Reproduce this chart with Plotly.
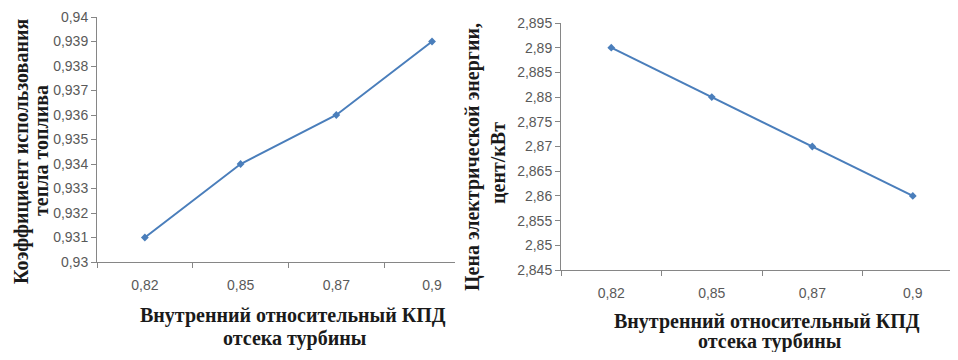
import plotly.graph_objects as go

# Page body has an 8px default margin on every side; size the figure so the page does not overflow.
OFF = 8
W, H = 958 - 2 * OFF, 360 - 2 * OFF

categories = ["0,82", "0,85", "0,87", "0,9"]
coef_values = [0.931, 0.934, 0.936, 0.939]
price_values = [2.89, 2.88, 2.87, 2.86]

left_yticks = [0.93, 0.931, 0.932, 0.933, 0.934, 0.935, 0.936, 0.937, 0.938, 0.939, 0.94]
left_yticklabels = ["0,93", "0,931", "0,932", "0,933", "0,934", "0,935", "0,936", "0,937", "0,938", "0,939", "0,94"]
right_yticks = [2.845, 2.85, 2.855, 2.86, 2.865, 2.87, 2.875, 2.88, 2.885, 2.89, 2.895]
right_yticklabels = ["2,845", "2,85", "2,855", "2,86", "2,865", "2,87", "2,875", "2,88", "2,885", "2,89", "2,895"]

left_ytitle_lines = ["Коэффициент использования", "тепла топлива"]
right_ytitle_lines = ["Цена электрической энергии,", "цент/кВт"]
xtitle_lines = ["Внутренний относительный КПД", "отсека турбины"]

LINE = "#4a7ebb"
AXIS = "#868686"
TICKFONT = dict(family="Liberation Sans, Arial", size=14, color="#595959")
TITLEFONT = dict(family="Liberation Serif, Times New Roman", size=20, color="#1a1a1a")

fig = go.Figure()
fig.add_trace(go.Scatter(x=categories, y=coef_values, mode="lines+markers",
                         line=dict(color=LINE, width=2),
                         marker=dict(symbol="diamond", size=6, color=LINE),
                         xaxis="x", yaxis="y", showlegend=False))
fig.add_trace(go.Scatter(x=categories, y=price_values, mode="lines+markers",
                         line=dict(color=LINE, width=2),
                         marker=dict(symbol="diamond", size=6, color=LINE),
                         xaxis="x2", yaxis="y2", showlegend=False))

def px(x):
    return min(max((x - OFF) / W, 0.0), 1.0)

def py(y):
    return min(max(1 - (y - OFF) / H, 0.0), 1.0)

xcommon = dict(type="category", tickson="boundaries", ticks="outside", ticklen=5,
               tickcolor=AXIS, showline=True, linecolor=AXIS, linewidth=1,
               showgrid=False, zeroline=False, tickfont=TICKFONT, ticklabelstandoff=10,
               automargin=False)
ycommon = dict(ticks="outside", ticklen=5, tickcolor=AXIS, showline=True, linecolor=AXIS,
               linewidth=1, showgrid=False, zeroline=False, tickfont=TICKFONT,
               automargin=False, ticklabeloverflow="allow")

def label(text, x, y, angle=0):
    return dict(text="<b>" + text + "</b>", textangle=angle, xref="paper", yref="paper",
                x=px(x), y=py(y), xanchor="center", yanchor="middle", showarrow=False,
                font=TITLEFONT)

annotations = [
    label(left_ytitle_lines[0], 21, 152, -90),
    label(left_ytitle_lines[1], 41, 151, -90),
    label(right_ytitle_lines[0], 472, 157, -90),
    label(right_ytitle_lines[1], 498, 163, -90),
    label(xtitle_lines[0], 293, 315),
    label(xtitle_lines[1], 295, 338),
    label(xtitle_lines[0], 767, 321),
    label(xtitle_lines[1], 770, 341),
]

fig.update_layout(
    width=W, height=H,
    margin=dict(l=0, r=0, t=0, b=0, autoexpand=False),
    paper_bgcolor="white", plot_bgcolor="white",
    xaxis=dict(domain=[px(97), px(455)], range=[-0.5, 3.24], anchor="y", **xcommon),
    yaxis=dict(domain=[py(262), py(17)], range=[0.93, 0.94], anchor="x",
               tickvals=left_yticks, ticktext=left_yticklabels, **ycommon),
    xaxis2=dict(domain=[px(561), 1.0], range=[-0.5, 3.37], anchor="y2", **xcommon),
    yaxis2=dict(domain=[py(270), py(23)], range=[2.845, 2.895], anchor="x2",
                tickvals=right_yticks, ticktext=right_yticklabels, **ycommon),
    annotations=annotations,
)

fig.write_html("out.html")
